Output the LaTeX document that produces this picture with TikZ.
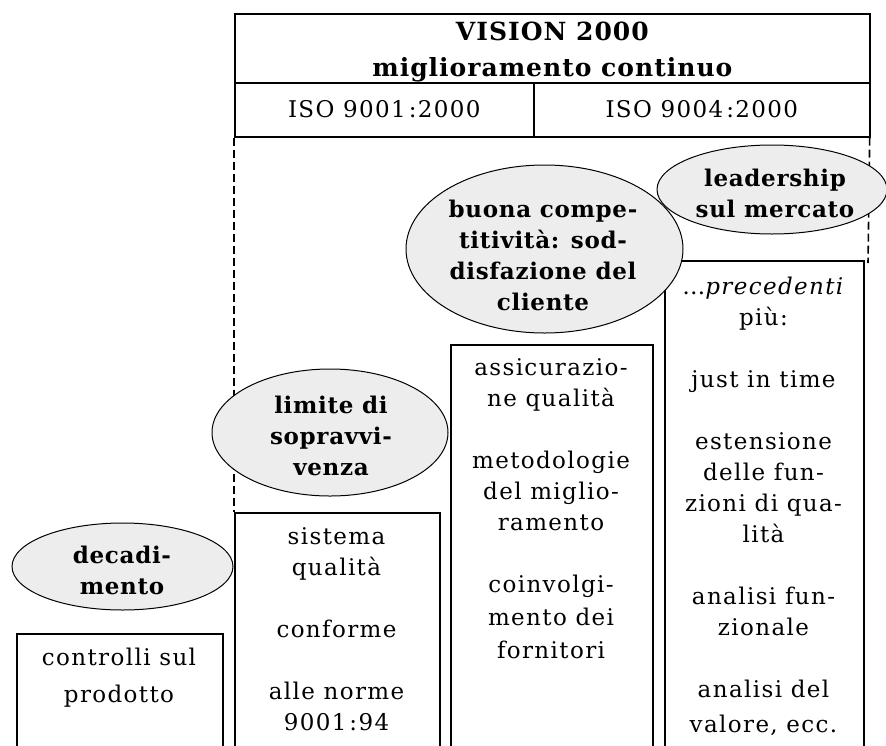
\documentclass[tikz,border=0pt]{standalone}
\usepackage{fontspec}
\setmainfont{DejaVu Serif}
\newfontfamily\bodyfont{DejaVu Serif}[LetterSpace=6]
\newfontfamily\bubblefont{DejaVu Serif}[LetterSpace=3]
\newfontfamily\headfont{DejaVu Serif}[LetterSpace=4]
\usetikzlibrary{shapes.geometric}
\newcommand\firstline{\rule{0pt}{20pt}}
\newcommand\colonkern{\kern3pt}
\begin{document}
\begin{tikzpicture}[x=1pt,y=-1pt,
  frame/.style={draw=black, line width=1.7pt, rectangle, inner sep=0pt, anchor=north west},
  bubble/.style={ellipse, draw=black, line width=1pt, fill=black!7, inner sep=0pt},
  rtext/.style={align=center, inner sep=0pt, anchor=north, font=\bodyfont\fontsize{23}{31}\selectfont},
  btext/.style={align=center, inner sep=0pt, font=\bubblefont\fontsize{23}{31}\selectfont\bfseries},
  htext/.style={align=center, inner sep=0pt, font=\headfont\fontsize{25}{36}\selectfont\bfseries},
  guide/.style={draw=black, line width=1.6pt, dash pattern=on 8pt off 4pt}]
\useasboundingbox (0,0) rectangle (886,745);
\clip (0,0) rectangle (886,745);
% header
\node[frame, minimum width=635pt, minimum height=69pt] (hdr) at (234,13) {};
\node[frame, minimum width=299pt, minimum height=54pt] (iso1) at (234,82) {};
\node[frame, minimum width=336pt, minimum height=54pt] (iso4) at (533,82) {};
\node[htext] (hdrt) at ([yshift=-4pt]hdr.center) {VISION 2000\\miglioramento continuo};
\node[rtext, anchor=center] (iso1t) at ([yshift=1pt]iso1.center) {ISO 9001\colonkern:2000};
\node[rtext, anchor=center] (iso4t) at ([yshift=1pt]iso4.center) {ISO 9004\colonkern:2000};
% columns
\node[frame, minimum width=206pt, minimum height=140pt] (ctl) at (16,633) {};
\node[frame, minimum width=205pt, minimum height=260pt] (sis) at (234,512) {};
\node[frame, minimum width=202pt, minimum height=420pt] (ass) at (450,344) {};
\node[frame, minimum width=199pt, minimum height=500pt] (pre) at (664,260) {};
% guides
\coordinate (rend) at (868,263);
\draw[guide] (iso1.south west) -- (sis.north west);
\draw[guide] ([xshift=-1pt]iso4.south east) -- (rend);
% bubbles
\node[bubble, minimum width=221pt, minimum height=87pt] (dec) at (122.5,566.5) {};
\node[bubble, minimum width=236pt, minimum height=127pt] (lim) at (330,432.5) {};
\node[bubble, minimum width=277pt, minimum height=168pt] (buo) at (544.5,249) {};
\node[bubble, minimum width=230pt, minimum height=89pt] (lea) at (772,189.5) {};
\node[btext] (dect) at (122,570) {decadi-\\mento};
\node[btext] (limt) at (331,436) {limite di\\sopravvi-\\venza};
\node[btext] (buot) at (543,255) {buona compe-\\titività: sod-\\disfazione del\\cliente};
\node[btext] (leat) at (775,193) {leadership\\sul mercato};
% column texts
\node[rtext] (ctlt) at (119,645) {\firstline controlli sul\\[6pt]prodotto};
\node[rtext] (sist) at (336.5,524) {\firstline sistema\\qualità\\[31pt]conforme\\[31pt]alle norme\\9001\colonkern:94};
\node[rtext] (asst) at (551,355) {\firstline assicurazio-\\ne qualità\\[31pt]metodologie\\del miglio-\\ramento\\[31pt]coinvolgi-\\[2pt]mento dei\\[2pt]fornitori};
\node[rtext] (pret) at (763.5,274) {\firstline\ldots\textit{precedenti}\\più:\\[31pt]just in time\\[31pt]estensione\\delle fun-\\zioni di qua-\\lità\\[31pt]analisi fun-\\zionale\\[31pt]analisi del\\[4pt]valore, ecc.};
\end{tikzpicture}
\end{document}
